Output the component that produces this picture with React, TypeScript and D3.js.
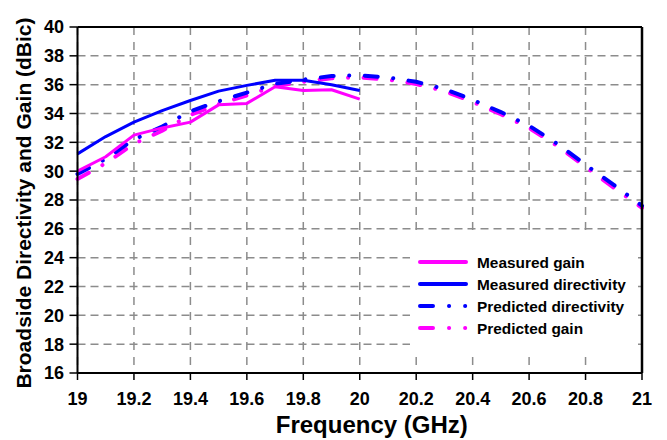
import React from "react";
import * as d3 from "d3";

const freqMeasured = [19, 19.1, 19.2, 19.3, 19.4, 19.5, 19.6, 19.7, 19.8, 19.9, 20];
const measuredGain = [30.0, 31.0, 32.5, 33.0, 33.4, 34.6, 34.7, 35.85, 35.6, 35.65, 35.0];
const measuredDirectivity = [31.2, 32.4, 33.4, 34.2, 34.9, 35.55, 35.95, 36.3, 36.3, 36.0, 35.6];

const freqPredicted = [19, 19.1, 19.2, 19.3, 19.4, 19.5, 19.6, 19.7, 19.8, 19.9, 20, 20.1, 20.2, 20.3, 20.4, 20.5, 20.6, 20.7, 20.8, 20.9, 21];
const predictedDirectivity = [29.8, 30.85, 32.2, 33.1, 34.15, 34.85, 35.45, 36.05, 36.35, 36.6, 36.65, 36.5, 36.2, 35.7, 34.95, 34.1, 33.15, 31.9, 30.45, 29.05, 27.6];
const predictedGain = [29.45, 30.55, 31.9, 32.8, 33.9, 34.65, 35.25, 35.9, 36.2, 36.45, 36.5, 36.35, 36.05, 35.55, 34.8, 33.95, 33.0, 31.75, 30.3, 28.85, 27.45];

const xTicks = [19, 19.2, 19.4, 19.6, 19.8, 20, 20.2, 20.4, 20.6, 20.8, 21];
const yTicks = [16, 18, 20, 22, 24, 26, 28, 30, 32, 34, 36, 38, 40];

const legendItems = [
  { label: "Measured gain", color: "#FF00FF", dashed: false },
  { label: "Measured directivity", color: "#0000FF", dashed: false },
  { label: "Predicted directivity", color: "#0000FF", dashed: true },
  { label: "Predicted gain", color: "#FF00FF", dashed: true },
];

const FONT = "'Liberation Sans', Arial, Helvetica, sans-serif";

export default function App() {
  const left = 77.5, right = 642, top = 27, bottom = 373;
  const x = d3.scaleLinear().domain([19, 21]).range([left, right]);
  const y = d3.scaleLinear().domain([16, 40]).range([bottom, top]);

  const line = d3
    .line<[number, number]>()
    .x((d) => x(d[0]))
    .y((d) => y(d[1]));

  const zip = (xs: number[], ys: number[]) => xs.map((v, i) => [v, ys[i]] as [number, number]);

  const predDash = "13,15.5,0.1,15.5";
  const legendDash = "13,16,0.1,16,0.1,60";

  return (
    <svg
      width={667}
      height={440}
      style={{ position: "absolute", left: 0, top: 0, background: "#fff" }}
      fontFamily={FONT}
    >
      <rect x={0} y={0} width={667} height={440} fill="#fff" />
      {/* grid */}
      {yTicks.map((t) => (
        <line key={"gy" + t} x1={left} x2={right} y1={y(t)} y2={y(t)} stroke="#8c8c8c" strokeWidth={1.5} strokeDasharray="8,5" />
      ))}
      {xTicks.map((t) => (
        <line key={"gx" + t} x1={x(t)} x2={x(t)} y1={top} y2={bottom} stroke="#8c8c8c" strokeWidth={1.5} strokeDasharray="8,7" />
      ))}

      {/* series */}
      <path d={line(zip(freqPredicted, predictedGain)) || ""} fill="none" stroke="#FF00FF" strokeWidth={4} strokeDasharray={predDash} strokeLinecap="round" />
      <path d={line(zip(freqPredicted, predictedDirectivity)) || ""} fill="none" stroke="#0000FF" strokeWidth={4} strokeDasharray={predDash} strokeLinecap="round" />
      <path d={line(zip(freqMeasured, measuredDirectivity)) || ""} fill="none" stroke="#0000FF" strokeWidth={3} strokeLinejoin="round" />
      <path d={line(zip(freqMeasured, measuredGain)) || ""} fill="none" stroke="#FF00FF" strokeWidth={3} strokeLinejoin="round" />

      {/* legend */}
      <rect x={410} y={235} width={228} height={115} fill="#fff" />
      {legendItems.map((it, i) => {
        const ly = 262 + i * 22;
        return (
          <g key={it.label}>
            <line
              x1={420}
              x2={466}
              y1={ly}
              y2={ly}
              stroke={it.color}
              strokeWidth={4}
              strokeLinecap="round"
              strokeDasharray={it.dashed ? legendDash : undefined}
            />
            <text x={477} y={ly} dy="0.36em" fontSize={15.4} fontWeight="bold" fill="#000">
              {it.label}
            </text>
          </g>
        );
      })}

      {/* frame */}
      <line x1={left} x2={right} y1={top} y2={top} stroke="#000" strokeWidth={2} />
      <line x1={right} x2={right} y1={top} y2={bottom} stroke="#000" strokeWidth={2.5} />
      <line x1={left} x2={right} y1={bottom} y2={bottom} stroke="#000" strokeWidth={2} />
      <line x1={left} x2={left} y1={top} y2={bottom} stroke="#000" strokeWidth={2} />

      {/* y ticks */}
      {yTicks.map((t) => (
        <g key={"yt" + t}>
          <line x1={left - 8} x2={left} y1={y(t)} y2={y(t)} stroke="#000" strokeWidth={1.5} />
          <text x={64} y={y(t)} dy="0.36em" textAnchor="end" fontSize={18} fontWeight="bold" fill="#000">
            {t}
          </text>
        </g>
      ))}
      {/* x ticks */}
      {xTicks.map((t) => (
        <g key={"xt" + t}>
          <line x1={x(t)} x2={x(t)} y1={bottom} y2={bottom + 7} stroke="#000" strokeWidth={1.5} />
          <text x={x(t)} y={405} textAnchor="middle" fontSize={18} fontWeight="bold" fill="#000">
            {t}
          </text>
        </g>
      ))}

      {/* axis titles */}
      <text x={(left + right) / 2 + 12} y={433} textAnchor="middle" fontSize={24} fontWeight="bold" fill="#000">
        Frequency (GHz)
      </text>
      <text
        transform={`translate(31, ${203}) rotate(-90)`}
        textAnchor="middle"
        fontSize={21}
        fontWeight="bold"
        fill="#000"
      >
        Broadside Directivity and Gain (dBic)
      </text>
    </svg>
  );
}
